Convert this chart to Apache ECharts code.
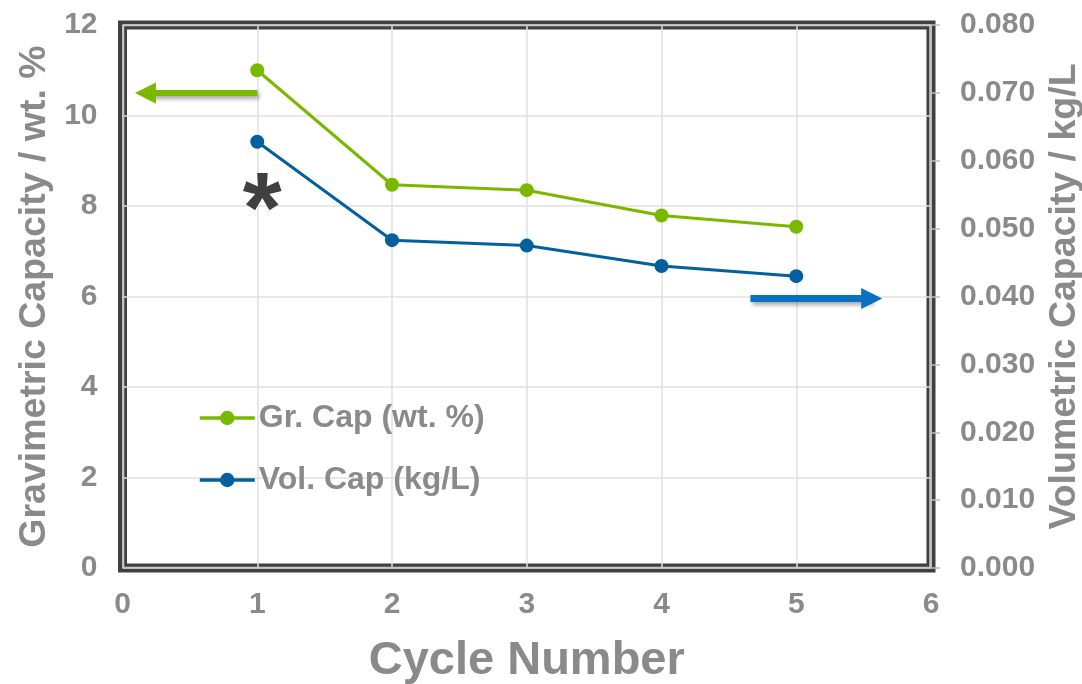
<!DOCTYPE html>
<html>
<head>
<meta charset="utf-8">
<script src="https://cdn.jsdelivr.net/npm/echarts@6/dist/echarts.min.js"></script>
<style>
  html, body { margin: 0; padding: 0; background: #fff; }
  #chart { width: 1082px; height: 684px; }
</style>
</head>
<body>
<div id="chart"></div>
<script>
// Cycle data
const cycles = [1, 2, 3, 4, 5];
const gravCap = [11.0, 8.47, 8.35, 7.79, 7.54];        // wt. %
const volCap = [0.0628, 0.0483, 0.0475, 0.0445, 0.0430]; // kg/L

const seriesNames = ['Gr. Cap (wt. %)', 'Vol. Cap (kg/L)'];

// Axis ranges
const xRange = { min: 0, max: 6, interval: 1 };
const leftRange = { min: 0, max: 12, interval: 2 };
const rightRange = { min: 0, max: 0.08, interval: 0.01 };

// Annotation arrows (data space): left arrow points to gravimetric axis, right arrow to volumetric axis
const grArrow = { from: [1.0, 10.5], to: [0.17, 10.5] };
const volArrow = { from: [4.66, 0.0397], to: [5.56, 0.0397] };
const starAt = [1.0, 7.8];

const GREEN = '#7ab800';
const BLUE = '#02609f';
const ARROW_BLUE = '#0a70c0';
const TEXT = '#8a8a8c';
const FRAME = '#404040';
const FONT = '"Liberation Sans", Arial, Helvetica, sans-serif';

const G = { left: 122.5, top: 25, right: 151, bottom: 116 };
const W = 1082, H = 684;

const chart = echarts.init(document.getElementById('chart'), null, { renderer: 'canvas' });

const tickLabel = { color: TEXT, fontFamily: FONT, fontWeight: 'bold', fontSize: 30 };

function arrowLine(a, color, width) {
  return {
    silent: true,
    symbol: ['none', 'triangle'],
    symbolSize: [21, 21],
    label: { show: false },
    lineStyle: {
      color: color, width: width, type: 'solid',
      shadowColor: 'rgba(0,0,0,0.35)', shadowBlur: 4, shadowOffsetX: 2, shadowOffsetY: 3
    },
    itemStyle: { color: color },
    emphasis: { disabled: true },
    data: [[{ coord: a.from }, { coord: a.to }]]
  };
}

const option = {
  animation: false,
  backgroundColor: '#ffffff',
  grid: {
    left: G.left, top: G.top, right: G.right, bottom: G.bottom,
    outerBoundsMode: 'none', containLabel: false,
    show: true, borderColor: FRAME, borderWidth: 9, backgroundColor: 'transparent'
  },
  legend: {
    orient: 'vertical',
    left: 198, top: 402, padding: 0,
    itemWidth: 55, itemHeight: 18, itemGap: 30,
    lineStyle: { width: 3.5 },
    textStyle: { color: TEXT, fontFamily: FONT, fontWeight: 'bold', fontSize: 32, padding: [0, 0, 0, -1] },
    data: seriesNames
  },
  xAxis: {
    type: 'value',
    min: xRange.min, max: xRange.max, interval: xRange.interval,
    name: 'Cycle Number', nameLocation: 'middle', nameGap: 70,
    nameTextStyle: { color: TEXT, fontFamily: FONT, fontWeight: 'bold', fontSize: 47 },
    axisLine: { show: false }, axisTick: { show: false },
    axisLabel: Object.assign({ margin: 22 }, tickLabel),
    splitLine: { show: true, lineStyle: { color: '#e0e0e0', width: 1.5 } }
  },
  yAxis: [
    {
      type: 'value', position: 'left',
      min: leftRange.min, max: leftRange.max, interval: leftRange.interval,
      name: 'Gravimetric Capacity / wt. %', nameLocation: 'middle', nameGap: 69,
      nameTextStyle: { color: TEXT, fontFamily: FONT, fontWeight: 'bold', fontSize: 37.5 },
      axisLine: { show: false }, axisTick: { show: false },
      axisLabel: Object.assign({ margin: 25 }, tickLabel),
      splitLine: { show: true, lineStyle: { color: '#e0e0e0', width: 1.5 } }
    },
    {
      type: 'value', position: 'right',
      min: rightRange.min, max: rightRange.max, interval: rightRange.interval,
      name: 'Volumetric Capacity / kg/L', nameLocation: 'middle', nameGap: 105,
      nameTextStyle: { color: TEXT, fontFamily: FONT, fontWeight: 'bold', fontSize: 37.5 },
      axisLine: { show: false },
      axisTick: { show: true, inside: false, length: 9, lineStyle: { color: '#bdbdbd', width: 1.5 } },
      axisLabel: Object.assign({ margin: 29, formatter: v => v.toFixed(3) }, tickLabel),
      splitLine: { show: false }
    }
  ],
  graphic: [
    {
      // thin light line running inside the dark frame
      type: 'rect', silent: true, z: 10,
      shape: { x: G.left + 1, y: G.top + 0.5, width: W - G.left - G.right - 2, height: H - G.top - G.bottom - 1 },
      style: { fill: null, stroke: '#c9c9c9', lineWidth: 1.5 }
    }
  ],
  series: [
    {
      name: seriesNames[0], type: 'line', yAxisIndex: 0,
      data: cycles.map((c, i) => [c, gravCap[i]]),
      symbol: 'circle', symbolSize: 14,
      lineStyle: { color: GREEN, width: 3 },
      itemStyle: { color: GREEN },
      emphasis: { disabled: true },
      markLine: arrowLine(grArrow, GREEN, 6),
      markPoint: {
        silent: true,
        symbol: 'circle', symbolSize: 0,
        data: [{ coord: starAt }],
        label: {
          show: true, position: 'inside', formatter: '*', offset: [5, -1],
          color: FRAME, fontFamily: FONT, fontWeight: 'bold', fontSize: 100
        }
      }
    },
    {
      name: seriesNames[1], type: 'line', yAxisIndex: 1,
      data: cycles.map((c, i) => [c, volCap[i]]),
      symbol: 'circle', symbolSize: 14,
      lineStyle: { color: BLUE, width: 3 },
      itemStyle: { color: BLUE },
      emphasis: { disabled: true },
      markLine: arrowLine(volArrow, ARROW_BLUE, 7)
    }
  ]
};

chart.setOption(option);
</script>
</body>
</html>
